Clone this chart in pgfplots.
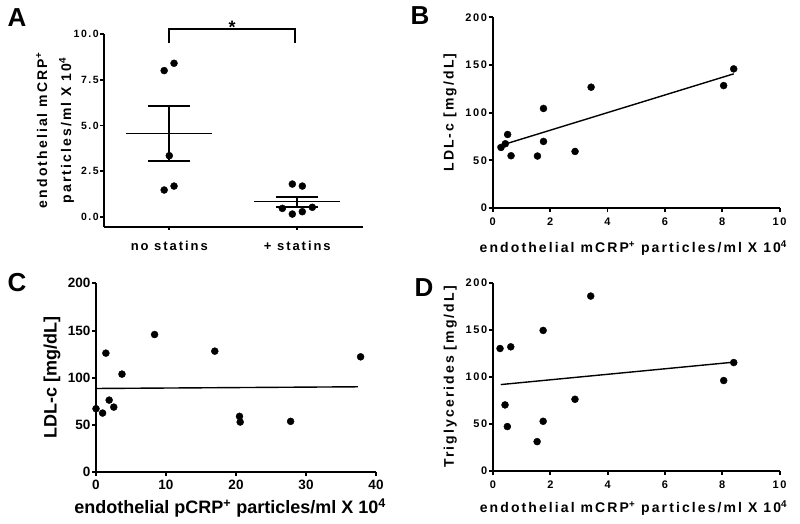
\documentclass[border=0pt]{standalone}
\usepackage{fontspec}
\setmainfont{Liberation Sans}
\newfontfamily\spc{Liberation Sans}[LetterSpace=15]
\usepackage{pgfplots}
\pgfplotsset{compat=1.18}
\pgfplotsset{
  gp/.style={scale only axis, axis lines*=left, clip=false,
    axis line style={line width=1.9pt, black},
    every tick/.style={line width=1.9pt, black},
    tick align=outside, major tick length=4pt,
    /pgf/number format/assume math mode=true,
    ticklabel style={inner sep=1.5pt},
  },
  sp/.style={ticklabel style={font=\spc\bfseries\fontsize{11}{12}\selectfont},
    xticklabel style={yshift=-4pt},
    label style={font=\spc\bfseries\fontsize{14}{24}\selectfont}},
  dot/.style={only marks, mark=*, mark size=3.5pt, black},
  fit/.style={black, line width=1.4pt, no marks},
}
\begin{document}
\begin{tikzpicture}
\path[use as bounding box] (0pt,0pt) rectangle (800pt,-524pt);
% Panel letters
\node[font=\bfseries\fontsize{26}{28}\selectfont] at (17pt,-17.5pt) {A};
\node[font=\bfseries\fontsize{26}{28}\selectfont] at (420pt,-16pt) {B};
\node[font=\bfseries\fontsize{26}{28}\selectfont] at (17pt,-283pt) {C};
\node[font=\bfseries\fontsize{26}{28}\selectfont] at (424pt,-288pt) {D};

% ---------- Panel A ----------
\begin{axis}[gp, sp, at={(104pt,-226.7pt)}, anchor=south west,
  width=259pt, height=192.7pt,
  xmin=-0.51, xmax=1.513, ymin=-0.53, ymax=10,
  major tick length=3.5pt,
  xtick={0,1}, xticklabels={no statins,+ statins},
  xticklabel style={font=\spc\bfseries\fontsize{13}{15}\selectfont, yshift=-5pt},
  yticklabel style={font=\spc\bfseries\fontsize{10.5}{12}\selectfont},
  ytick={0,2.5,5,7.5,10}, yticklabels={0.0,2.5,5.0,7.5,10.0},
  ylabel={endothelial mCRP\textsuperscript{+}\\particles/ml X 10\textsuperscript{4}},
  ylabel style={align=center, at={(axis description cs:-0.189,0.5)}, anchor=center},
]
\addplot[dot] coordinates {(-0.04,8.0) (0.037,8.40) (0,3.35) (0.037,1.69) (-0.04,1.475)};
\addplot[dot] coordinates {(0.961,1.80) (1.039,1.69) (0.883,0.47) (0.961,0.16) (1.039,0.29) (1.117,0.53)};
% no statins mean +- SEM
\addplot[black, line width=1.6pt] coordinates {(-0.335,4.57) (0.335,4.57)};
\addplot[black, line width=2.1pt] coordinates {(0,3.07) (0,6.08)};
\addplot[black, line width=2.1pt] coordinates {(-0.163,6.08) (0.163,6.08)};
\addplot[black, line width=2.1pt] coordinates {(-0.163,3.07) (0.163,3.07)};
% + statins mean +- SEM
\addplot[black, line width=1.6pt] coordinates {(0.665,0.84) (1.335,0.84)};
\addplot[black, line width=2.1pt] coordinates {(1,0.53) (1,1.11)};
\addplot[black, line width=2.1pt] coordinates {(0.835,1.11) (1.165,1.11)};
\addplot[black, line width=2.1pt] coordinates {(0.835,0.53) (1.165,0.53)};
% significance bracket
\addplot[black, line width=1.9pt] coordinates {(0,9.49) (0,10.26) (0.985,10.26) (0.985,9.49)};
\node[anchor=base, font=\bfseries\fontsize{18}{18}\selectfont, inner sep=0pt] at (axis cs:0.49,10.0) {*};
\end{axis}

% ---------- Panel B ----------
\begin{axis}[gp, sp, at={(492.7pt,-208pt)}, anchor=south west,
  width=286.9pt, height=190.7pt,
  xmin=0, xmax=10, ymin=0, ymax=200,
  xtick={0,2,...,10}, ytick={0,50,...,200},
  xlabel={endothelial mCRP\textsuperscript{+} particles/ml X 10\textsuperscript{4}},
  xlabel style={at={(axis description cs:0.49,-0.21)}, anchor=center},
  ylabel={LDL-c [mg/dL]},
  ylabel style={at={(axis description cs:-0.149,0.5)}, anchor=center},
]
\addplot[dot] coordinates {(0.29,63.5) (0.44,67.4) (0.52,77.1) (0.64,54.8) (1.56,54.5) (1.77,104.4) (1.77,69.8) (2.87,59.3) (3.43,126.7) (8.05,128.4) (8.40,145.9)};
\addplot[fit] coordinates {(0.17,64.6) (8.40,140.7)};
\end{axis}

% ---------- Panel C ----------
\begin{axis}[gp, at={(96pt,-472.3pt)}, anchor=south west,
  width=280pt, height=189pt,
  xmin=0, xmax=40, ymin=0, ymax=200,
  xtick={0,10,...,40}, ytick={0,50,...,200},
  ticklabel style={font=\bfseries\fontsize{13.5}{15}\selectfont},
  xticklabel style={yshift=-2.5pt},
  label style={font=\bfseries\fontsize{18}{20}\selectfont},
  xlabel={endothelial pCRP\textsuperscript{+} particles/ml X 10\textsuperscript{4}},
  xlabel style={at={(axis description cs:0.479,-0.189)}, anchor=center},
  ylabel={LDL-c [mg/dL]},
  ylabel style={at={(axis description cs:-0.157,0.5)}, anchor=center},
]
\addplot[dot] coordinates {(0.0,67.3) (0.94,62.7) (1.41,126.1) (1.88,76.4) (2.54,69.0) (3.71,103.9) (8.37,145.8) (16.97,128.2) (20.5,59.2) (20.6,53.2) (27.8,53.9) (37.8,122.2)};
\addplot[fit] coordinates {(0.14,88.7) (37.4,90.5)};
\end{axis}

% ---------- Panel D ----------
\begin{axis}[gp, sp, at={(493pt,-471pt)}, anchor=south west,
  width=286.6pt, height=188.3pt,
  xmin=0, xmax=10, ymin=0, ymax=200,
  xtick={0,2,...,10}, ytick={0,50,...,200},
  xlabel={endothelial mCRP\textsuperscript{+} particles/ml X 10\textsuperscript{4}},
  xlabel style={at={(axis description cs:0.49,-0.198)}, anchor=center},
  ylabel={Triglycerides [mg/dL]},
  ylabel style={at={(axis description cs:-0.149,0.5)}, anchor=center},
]
\addplot[dot] coordinates {(0.245,130.1) (0.42,70.2) (0.50,47.2) (0.62,131.9) (1.54,31.2) (1.75,149.3) (1.75,52.8) (2.86,76.2) (3.41,185.8) (8.05,96.1) (8.40,115.2)};
\addplot[fit] coordinates {(0.27,91.8) (8.40,115.6)};
\end{axis}
\end{tikzpicture}
\end{document}
